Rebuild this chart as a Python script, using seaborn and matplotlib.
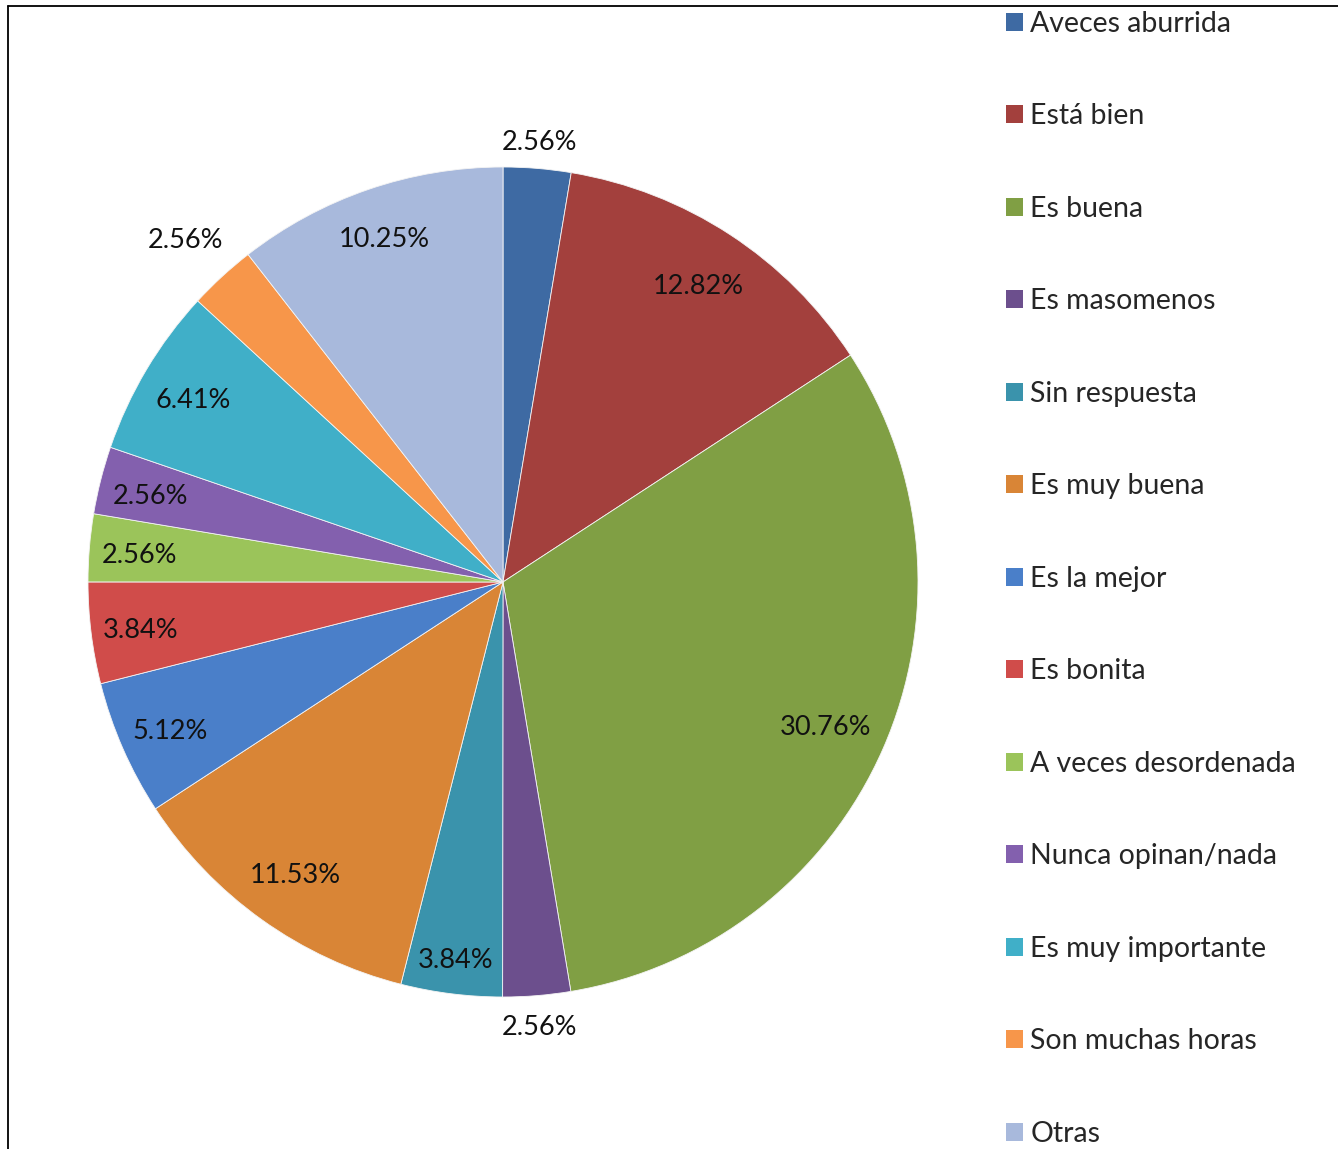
import numpy as np
import matplotlib
matplotlib.use("Agg")
import matplotlib.pyplot as plt
from matplotlib.patches import Patch
from matplotlib.lines import Line2D
import seaborn as sns

# Datos
categorias = ["Aveces aburrida", "Está bien", "Es buena", "Es masomenos",
              "Sin respuesta", "Es muy buena", "Es la mejor", "Es bonita",
              "A veces desordenada", "Nunca opinan/nada", "Es muy importante",
              "Son muchas horas", "Otras"]
porcentajes = [2.56, 12.82, 30.76, 2.56, 3.84, 11.53, 5.12, 3.84,
               2.56, 2.56, 6.41, 2.56, 10.25]

colores = ["#3E6AA3", "#A3403D", "#809F44", "#6C4F8D", "#3A93AC", "#D98536",
           "#4A7FC9", "#D04C4A", "#9BC45A", "#8360AE", "#40AFC8", "#F7964A",
           "#A8B9DC"]

# distancia de cada etiqueta (fracción del radio)
dist_etiqueta = [1.07, 0.86, 0.85, 1.07, 0.91, 0.86, 0.875, 0.88,
                 0.88, 0.875, 0.87, 1.13, 0.88]

sns.set_theme(style="white")
plt.rcParams["font.family"] = ["Lato", "DejaVu Sans"]

W, H = 1338, 1149
fig = plt.figure(figsize=(W / 100, H / 100), dpi=100)
fig.patch.set_facecolor("white")

cx, cy, R = 503, 582, 415
ax = fig.add_axes([(cx - R) / W, (H - cy - R) / H, 2 * R / W, 2 * R / H])
wedges, _ = ax.pie(porcentajes, colors=colores, startangle=90, counterclock=False,
                   wedgeprops=dict(linewidth=0.6, edgecolor="#f4f4f4"))
ax.set_xlim(-1, 1)
ax.set_ylim(-1, 1)
ax.set_aspect("equal")
ax.axis("off")

for w, val, d in zip(wedges, porcentajes, dist_etiqueta):
    ang = np.deg2rad((w.theta1 + w.theta2) / 2)
    ax.text(d * np.cos(ang), d * np.sin(ang) - 0.008, f"{val:.2f}%",
            ha="center", va="center", fontsize=19.5, color="#111111")

handles = [Patch(facecolor=c, edgecolor="none") for c in colores]
fig.legend(handles, categorias, loc="upper left", bbox_to_anchor=(1006 / W, 1 - 11 / H),
           frameon=False, fontsize=20.5, handlelength=0.6, handleheight=0.6,
           handletextpad=0.25, labelspacing=2.335, borderaxespad=0, borderpad=0)

# bordes del área del gráfico
fig.add_artist(Line2D([8 / W, 1], [1 - 6 / H, 1 - 6 / H], color="black", lw=1.3))
fig.add_artist(Line2D([8 / W, 8 / W], [0, 1 - 6 / H], color="black", lw=1.3))

fig.savefig("out.png", dpi=100, facecolor="white")
